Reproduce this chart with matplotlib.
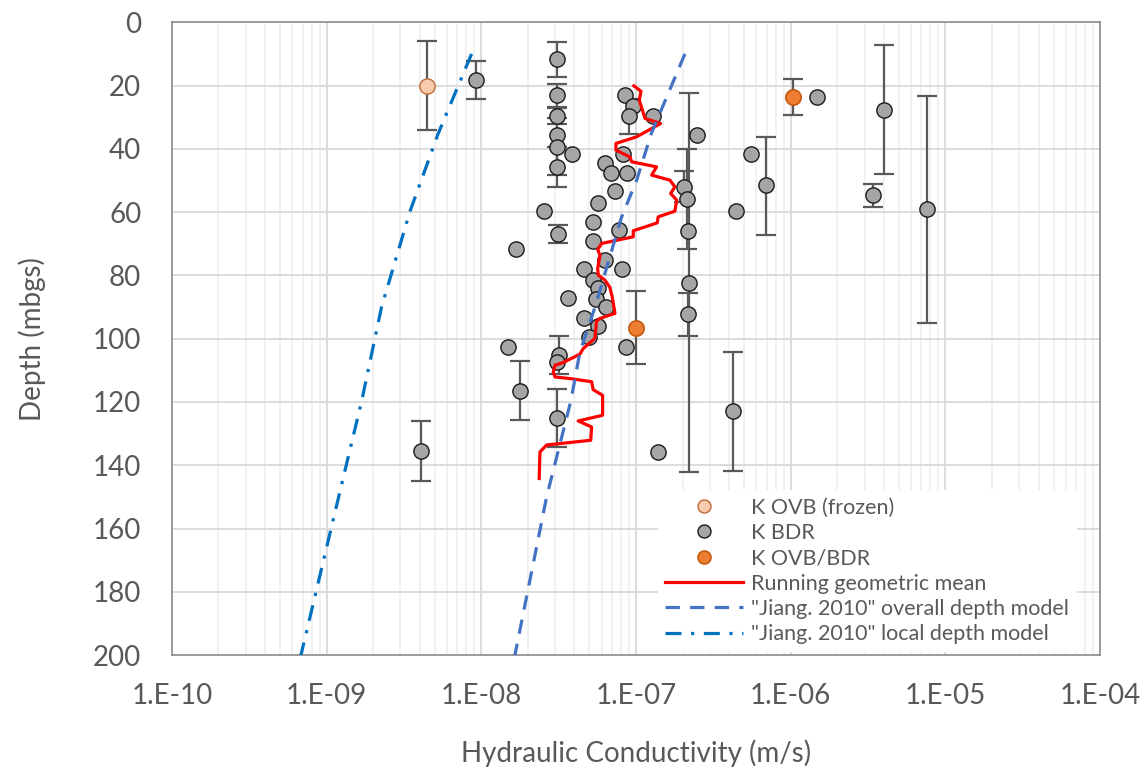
import numpy as np
import matplotlib
matplotlib.use("Agg")
import matplotlib.pyplot as plt
from matplotlib.ticker import LogLocator, NullFormatter

plt.rcParams['font.family'] = ['Lato', 'DejaVu Sans']

# K OVB (frozen)
k_frozen = [4.45e-9]
d_frozen = [20.0]
e_frozen = [14.0]

# K OVB/BDR
k_ovbbdr = [1.03e-6, 1.0e-7]
d_ovbbdr = [23.6, 96.5]
e_ovbbdr_lo = [5.8, 11.5]
e_ovbbdr_hi = [5.6, 11.5]

# K BDR (error = depth interval, 0 where no bar)
k_bdr = [9.3e-9, 3.1e-8, 3.1e-8, 3.1e-8, 3.1e-8, 3.1e-8, 3.1e-8, 3.84e-8,
         8.5e-8, 9.5e-8, 8.96e-8, 1.28e-7, 8.2e-8, 6.3e-8, 6.9e-8, 8.8e-8,
         7.3e-8, 5.7e-8, 2.55e-8, 2.47e-7, 2.05e-7, 2.15e-7, 5.25e-8, 3.14e-8,
         7.8e-8, 5.3e-8, 1.67e-8, 6.3e-8, 4.6e-8, 8.1e-8, 5.25e-8, 5.7e-8,
         3.65e-8, 5.5e-8, 6.4e-8, 4.6e-8, 5.65e-8, 5.0e-8, 1.48e-8, 8.6e-8,
         3.16e-8, 3.1e-8, 1.78e-8, 2.17e-7, 2.2e-7, 2.17e-7, 4.06e-9, 3.1e-8,
         1.38e-7, 1.47e-6, 4.0e-6, 7.6e-6, 3.4e-6, 6.9e-7, 5.5e-7, 4.4e-7,
         4.25e-7]
d_bdr = [18.1, 11.7, 23.1, 29.6, 35.7, 39.4, 45.7, 41.5,
         23.1, 26.4, 29.7, 29.7, 41.5, 44.4, 47.6, 47.6,
         53.4, 57.1, 59.6, 35.7, 52.0, 55.9, 63.2, 66.9,
         65.5, 69.1, 71.6, 75.0, 78.0, 78.0, 81.3, 83.9,
         87.0, 87.5, 89.9, 93.4, 96.0, 99.4, 102.6, 102.6,
         105.2, 107.5, 116.5, 65.9, 82.3, 92.2, 135.4, 125.0,
         135.9, 23.6, 27.6, 59.1, 54.6, 51.5, 41.6, 59.6,
         122.9]
e_bdr_lo = [6.0, 5.5, 3.6, 2.6, 0, 9.0, 6.3, 0,
            0, 0, 5.6, 0, 0, 0, 0, 0,
            0, 0, 0, 0, 4.9, 15.8, 0, 2.8,
            0, 0, 0, 0, 0, 0, 0, 0,
            0, 0, 0, 0, 0, 0, 0, 0,
            6.1, 0, 9.3, 0, 59.8, 6.7, 9.5, 9.0,
            0, 0, 20.3, 35.9, 3.5, 15.3, 0, 0,
            18.7]
e_bdr_hi = [6.0, 5.5, 3.6, 2.6, 0, 9.0, 6.3, 0,
            0, 0, 5.6, 0, 0, 0, 0, 0,
            0, 0, 0, 0, 4.9, 15.8, 0, 3.0,
            0, 0, 0, 0, 0, 0, 0, 0,
            0, 0, 0, 0, 0, 0, 0, 0,
            6.1, 0, 9.3, 0, 59.7, 6.9, 9.5, 9.2,
            0, 0, 20.5, 35.9, 3.7, 15.6, 0, 0,
            19.0]

# running geometric mean (log10 K, depth)
logk_mean = [-7.014, -6.968, -6.979, -6.942, -6.841, -6.996, -7.130, -7.130,
             -7.039, -7.028, -6.867, -6.899, -6.781, -6.749, -6.776, -6.737,
             -6.749, -6.857, -6.863, -7.018, -7.018, -7.222, -7.248, -7.233,
             -7.248, -7.244, -7.201, -7.169, -7.154, -7.136, -7.233, -7.255,
             -7.266, -7.341, -7.363, -7.474, -7.524, -7.535, -7.524, -7.427,
             -7.287, -7.277, -7.216, -7.216, -7.374, -7.287, -7.293, -7.578,
             -7.621, -7.626]
d_mean = [20.1, 21.8, 24.6, 30.4, 32.0, 36.2, 38.3, 40.4,
          42.6, 44.1, 45.7, 48.3, 49.9, 52.0, 54.1, 56.2,
          59.7, 61.5, 63.4, 65.9, 67.8, 69.9, 71.8, 73.6,
          77.8, 79.9, 81.5, 83.8, 86.8, 92.0, 93.6, 94.4,
          99.9, 103.1, 104.9, 107.6, 108.4, 110.5, 112.1, 112.6,
          113.6, 116.1, 117.9, 124.2, 126.0, 127.9, 132.1, 133.6,
          135.8, 144.2]

# Jiang 2010 depth models (log10 K, depth)
d_overall = [10, 35, 49.9, 61.5, 90, 104.2, 119.4, 150, 200]
logk_overall = [-6.684, -6.90, -6.996, -7.093, -7.265, -7.363, -7.42, -7.578, -7.783]
d_local = [10, 35.2, 59.9, 90, 119.4, 151, 200]
logk_local = [-8.063, -8.279, -8.462, -8.645, -8.772, -8.927, -9.166]

x_ticks = [1e-10, 1e-9, 1e-8, 1e-7, 1e-6, 1e-5, 1e-4]
x_tick_labels = ["1.E-10", "1.E-09", "1.E-08", "1.E-07", "1.E-06", "1.E-05", "1.E-04"]
y_ticks = list(range(0, 201, 20))

txt = '#595959'
fig = plt.figure(figsize=(11.46, 7.68), dpi=100)
ax = fig.add_axes([0.150, 0.147, 0.810, 0.824])

ebar = dict(fmt='none', ecolor='#595959', elinewidth=1.6, capsize=7, capthick=1.6, zorder=2)

k_bdr = np.array(k_bdr)
d_bdr = np.array(d_bdr)
lo = np.array(e_bdr_lo)
hi = np.array(e_bdr_hi)
m = (lo > 0) | (hi > 0)
ax.errorbar(k_bdr[m], d_bdr[m], yerr=[lo[m], hi[m]], **ebar)
ax.errorbar(k_frozen, d_frozen, yerr=e_frozen, **ebar)
ax.errorbar(k_ovbbdr, d_ovbbdr, yerr=[e_ovbbdr_lo, e_ovbbdr_hi], **ebar)

ax.plot(k_frozen, d_frozen, 'o', ms=11, mfc='#f8cbad', mec='#c0693a', mew=1.0,
        ls='none', zorder=3, label='K OVB (frozen)')
ax.plot(k_bdr, d_bdr, 'o', ms=11, mfc='#a5a5a5', mec='#1a1a1a', mew=1.0,
        ls='none', zorder=3, label='K BDR')
ax.plot(k_ovbbdr, d_ovbbdr, 'o', ms=11, mfc='#ed7d31', mec='#c55a11', mew=1.2,
        ls='none', zorder=3, label='K OVB/BDR')

ax.plot(10 ** np.array(logk_mean), d_mean, color='#ff0000', lw=2.3, zorder=4,
        label='Running geometric mean')
ax.plot(10 ** np.array(logk_overall), d_overall, color='#4472c4', lw=2.3,
        dashes=(4.5, 3.2), zorder=4, label='"Jiang. 2010" overall depth model')
ax.plot(10 ** np.array(logk_local), d_local, color='#0070c0', lw=2.3,
        dashes=(5, 3, 1, 3), zorder=4, label='"Jiang. 2010" local depth model')

ax.set_xscale('log')
ax.set_xlim(1e-10, 1e-4)
ax.set_ylim(200, 0)
ax.set_xticks(x_ticks)
ax.set_xticklabels(x_tick_labels)
ax.xaxis.set_minor_locator(LogLocator(base=10, subs=np.arange(2, 10), numticks=20))
ax.xaxis.set_minor_formatter(NullFormatter())
ax.set_yticks(y_ticks)

ax.grid(which='major', color='#d9d9d9', lw=1.3, zorder=0)
ax.grid(which='minor', axis='x', color='#f0f0f0', lw=1.3, zorder=0)
ax.set_axisbelow(True)
for s in ax.spines.values():
    s.set_color('#8c8c8c')
    s.set_linewidth(1.2)

ax.tick_params(axis='both', which='both', length=0, labelsize=20, labelcolor=txt)
ax.tick_params(axis='x', pad=20)
ax.tick_params(axis='y', pad=22)

ax.set_xlabel('Hydraulic Conductivity (m/s)', fontsize=20, color=txt, labelpad=22)
ax.set_ylabel('Depth (mbgs)', fontsize=20, color=txt, labelpad=34)

leg = ax.legend(loc='lower left', bbox_to_anchor=(0.52, 0.0), fontsize=15.5,
                frameon=True, facecolor='white', edgecolor='none', framealpha=1,
                handlelength=3.6, handletextpad=0.4, labelspacing=0.25,
                borderaxespad=0.15, borderpad=0.35, markerscale=0.85)
for t in leg.get_texts():
    t.set_color(txt)

fig.savefig('out.png', dpi=100)
